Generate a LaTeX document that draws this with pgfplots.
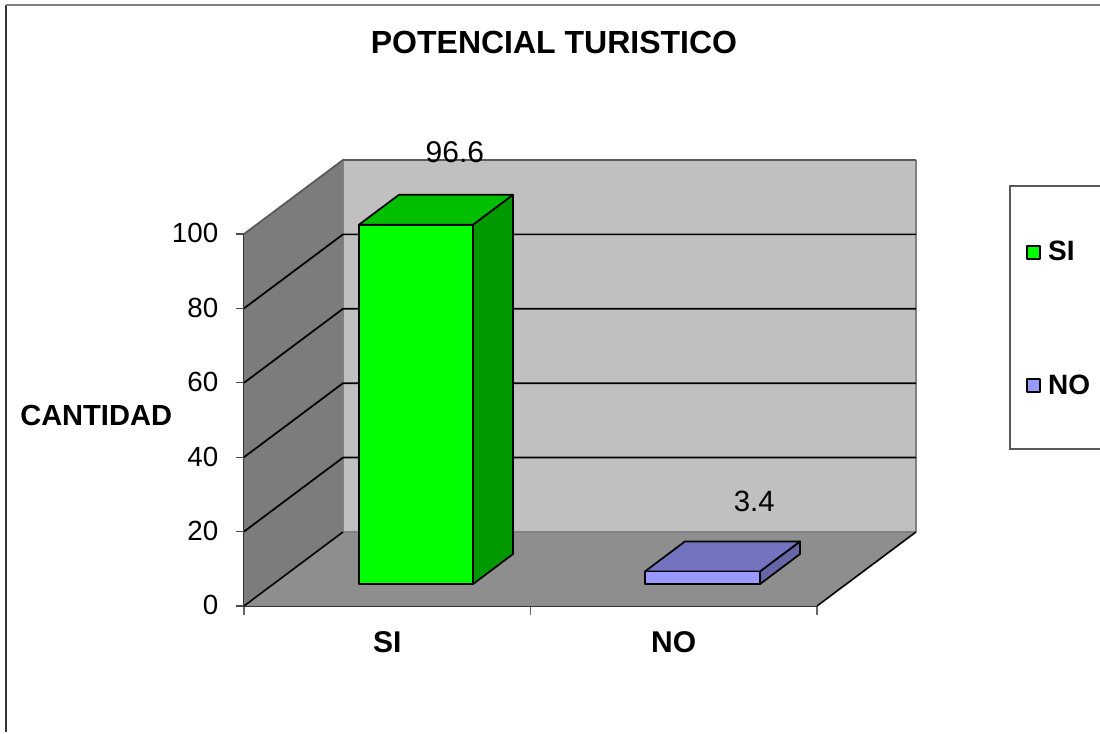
\documentclass[border=0pt]{standalone}
\usepackage{fontspec}
\setmainfont{Liberation Sans}
\usepackage{pgfplots}
\pgfplotsset{compat=1.18}
\definecolor{wallback}{HTML}{C0C0C0}
\definecolor{wallside}{HTML}{7C7C7C}
\definecolor{floorc}{HTML}{8E8E8E}
\definecolor{edgec}{HTML}{808080}
\definecolor{sifront}{HTML}{00FF00}
\definecolor{sitop}{HTML}{00BF00}
\definecolor{siside}{HTML}{009A00}
\definecolor{nofront}{HTML}{9999FF}
\definecolor{notop}{HTML}{7373BF}
\definecolor{noside}{HTML}{6666A6}
\begin{document}
\begin{tikzpicture}[line join=round]
\path[use as bounding box] (-183pt,-95.25pt) rectangle +(825pt,549.75pt);
\begin{axis}[
  at={(0,0)},anchor=south west,
  scale only axis,width=429.75pt,height=279pt,
  xmin=0,xmax=2,ymin=0,ymax=100,clip=false,
  axis y line*=left,axis x line*=bottom,
  axis line style={-,line width=1.3pt,color=black!85},
  tick align=outside,
  ytick={0,20,40,60,80,100},
  xtick={0.5,1.5},xticklabels={\textbf{SI},\textbf{NO}},
  minor xtick={0,1,2},
  major tick length=0pt,
  tick style={color=black!70,line width=0.9pt},
  every tick/.style={color=black!70,line width=0.9pt},
  every minor tick/.style={color=black!60,line width=0.9pt},
  minor tick length=7pt,
  y tick label style={font=\fontsize{20.8}{24}\selectfont,xshift=-15.8pt,yshift=0.5pt},
  x tick label style={font=\fontsize{22.5}{26}\selectfont,yshift=-15.5pt},
  /pgf/number format/assume math mode=true,
  title={\textbf{POTENCIAL TURISTICO}},
  title style={at={(axis cs:1.082,149.4)},anchor=center,font=\fontsize{24}{28}\selectfont},
  ylabel={\textbf{CANTIDAD}},
  ylabel style={at={(axis cs:-0.516,51.3)},rotate=-90,anchor=center,font=\fontsize{21.8}{26}\selectfont},
  legend style={at={(axis cs:2.727,98.8)},anchor=north west,draw=none,fill=none,
    font=\fontsize{21}{25}\selectfont,row sep=79.7pt,inner sep=0pt},
  legend cell align=left,
]
% back wall
\addplot[fill=wallback,draw=none,forget plot] coordinates {(0.3455,19.9)(2.3455,19.9)(2.3455,119.9)(0.3455,119.9)} -- cycle;
% side wall
\addplot[fill=wallside,draw=none,forget plot] coordinates {(0,0)(0.3455,19.9)(0.3455,119.9)(0,100)} -- cycle;
% wall edges
\addplot[draw=edgec,line width=1.2pt,forget plot] coordinates {(0.3455,19.9)(0.3455,119.9)};
\addplot[draw=edgec,line width=1.2pt,forget plot] coordinates {(2.3455,19.9)(2.3455,119.9)};
\addplot[draw=black!65,line width=1.3pt,forget plot] coordinates {(0,100)(0.3455,119.9)(2.3455,119.9)};
% gridlines
\addplot[black,line width=1.3pt,forget plot] coordinates {(0,20)(0.3455,39.9)(2.3455,39.9)};
\addplot[black,line width=1.3pt,forget plot] coordinates {(0,40)(0.3455,59.9)(2.3455,59.9)};
\addplot[black,line width=1.3pt,forget plot] coordinates {(0,60)(0.3455,79.9)(2.3455,79.9)};
\addplot[black,line width=1.3pt,forget plot] coordinates {(0,80)(0.3455,99.9)(2.3455,99.9)};
% floor
\addplot[fill=floorc,draw=none,forget plot] coordinates {(0,0)(2,0)(2.3455,19.9)(0.3455,19.9)} -- cycle;
\addplot[draw=edgec,line width=1.2pt,forget plot] coordinates {(0.3455,19.9)(2.3455,19.9)};
\addplot[black,line width=1.2pt,forget plot] coordinates {(0,0)(0.3455,19.9)};
\addplot[black,line width=1.2pt,forget plot] coordinates {(2,0)(2.3455,19.9)};
% bar SI = 96.6 (base 5.9)
\addplot[fill=siside,draw=black,line width=1.3pt,forget plot] coordinates {(0.7993,5.9)(0.9389,13.96)(0.9389,110.56)(0.7993,102.5)} -- cycle;
\addplot[fill=sitop,draw=black,line width=1.3pt,forget plot] coordinates {(0.4014,102.5)(0.7993,102.5)(0.9389,110.56)(0.5410,110.56)} -- cycle;
\addplot[fill=sifront,draw=black,line width=1.3pt,forget plot] coordinates {(0.4014,5.9)(0.7993,5.9)(0.7993,102.5)(0.4014,102.5)} -- cycle;
% bar NO = 3.4 (base 5.9)
\addplot[fill=noside,draw=black,line width=1.3pt,forget plot] coordinates {(1.8010,5.9)(1.9407,13.96)(1.9407,17.36)(1.8010,9.3)} -- cycle;
\addplot[fill=notop,draw=black,line width=1.3pt,forget plot] coordinates {(1.3997,9.3)(1.8010,9.3)(1.9407,17.36)(1.5393,17.36)} -- cycle;
\addplot[fill=nofront,draw=black,line width=1.3pt,forget plot] coordinates {(1.3997,5.9)(1.8010,5.9)(1.8010,9.3)(1.3997,9.3)} -- cycle;
% y ticks, front axis
\addplot[black!70,line width=0.9pt,forget plot] coordinates {(-0.028,0)(0,0)};
\addplot[black!70,line width=0.9pt,forget plot] coordinates {(-0.028,20)(0,20)};
\addplot[black!70,line width=0.9pt,forget plot] coordinates {(-0.028,40)(0,40)};
\addplot[black!70,line width=0.9pt,forget plot] coordinates {(-0.028,60)(0,60)};
\addplot[black!70,line width=0.9pt,forget plot] coordinates {(-0.028,80)(0,80)};
\addplot[black!70,line width=0.9pt,forget plot] coordinates {(-0.028,100)(0,100)};
% value labels
\node[font=\fontsize{22.5}{26}\selectfont] at (axis cs:0.736,122.0) {96.6};
\node[font=\fontsize{22}{26}\selectfont] at (axis cs:1.781,28.0) {3.4};
% legend
\addlegendimage{legend image code/.code={\draw[fill=sifront,draw=black,line width=1.5pt] (0pt,-5pt) rectangle (10pt,5pt);}}
\addlegendentry{\hspace{3.5pt}\textbf{SI}}
\addlegendimage{legend image code/.code={\draw[fill=nofront,draw=black,line width=1.5pt] (0pt,-5pt) rectangle (10pt,5pt);}}
\addlegendentry{\hspace{3.5pt}\textbf{NO}}
% legend box, running off the right edge
\draw[draw=black!65,line width=1.2pt] (axis cs:2.67,112.9) -- (axis cs:3.02,112.9);
\draw[draw=black!65,line width=1.2pt] (axis cs:2.67,42.2) -- (axis cs:3.02,42.2);
\draw[draw=black!65,line width=1.2pt] (axis cs:2.674,112.9) -- (axis cs:2.674,42.2);
% outer frame
\draw[draw=black!80,line width=1.5pt] (axis cs:-0.832,-34) -- (axis cs:-0.832,161.5);
\draw[draw=black!50,line width=1.5pt] (axis cs:-0.832,161.5) -- (axis cs:3.02,161.5);
\end{axis}
\end{tikzpicture}
\end{document}
